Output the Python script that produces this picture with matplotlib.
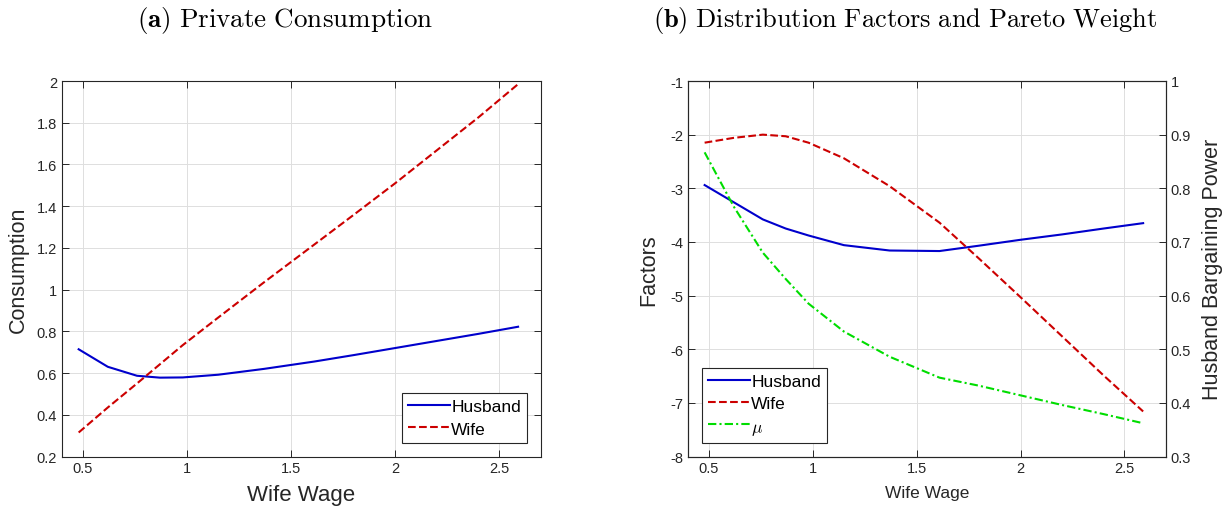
"""Two-panel MATLAB-style chart: private consumption and distribution factors."""

import matplotlib

matplotlib.use("Agg")

import matplotlib.pyplot as plt
from matplotlib.ticker import FuncFormatter

plt.rcParams["font.family"] = ["Liberation Sans", "DejaVu Sans"]
plt.rcParams["mathtext.fontset"] = "cm"
plt.rcParams["axes.unicode_minus"] = False

# wife wage grid
wage = [0.48, 0.62, 0.76, 0.87, 0.98, 1.15, 1.37, 1.61, 1.8, 2.0, 2.2, 2.4, 2.59]

# panel (a): private consumption
cons_husband = [0.714, 0.630, 0.587, 0.578, 0.579, 0.592, 0.620, 0.655,
                0.686, 0.720, 0.754, 0.788, 0.822]
cons_wife = [0.315, 0.435, 0.550, 0.642, 0.734, 0.866, 1.035, 1.215,
             1.358, 1.510, 1.668, 1.826, 1.985]

# panel (b): distribution factors (left axis) and pareto weight (right axis)
factor_husband = [-2.94, -3.26, -3.58, -3.75, -3.88, -4.06, -4.16, -4.17,
                  -4.07, -3.96, -3.86, -3.75, -3.65]
factor_wife = [-2.15, -2.06, -2.00, -2.03, -2.15, -2.44, -2.96, -3.64,
               -4.31, -5.03, -5.76, -6.49, -7.16]
mu = [0.867, 0.766, 0.680, 0.631, 0.585, 0.533, 0.486, 0.447,
      0.432, 0.414, 0.396, 0.379, 0.362]

x_ticks = [0.5, 1, 1.5, 2, 2.5]
cons_ticks = [0.2, 0.4, 0.6, 0.8, 1, 1.2, 1.4, 1.6, 1.8, 2]
factor_ticks = [-8, -7, -6, -5, -4, -3, -2, -1]
mu_ticks = [0.3, 0.4, 0.5, 0.6, 0.7, 0.8, 0.9, 1]

BLUE = "#0000CC"
RED = "#CC0000"
GREEN = "#00DD00"
AXIS = "#262626"
W, H = 1232, 510


def _fmt(v, _pos):
    return "%g" % round(v, 6)


def _style_spines(ax):
    for side in ax.spines.values():
        side.set_color(AXIS)
        side.set_linewidth(0.8)


def _matlab_axes(ax, mirror_y=True):
    _style_spines(ax)
    ax.tick_params(direction="in", length=5, width=0.7, color=AXIS,
                   labelcolor=AXIS, labelsize=10.5, top=True, right=mirror_y)
    ax.grid(True, color="#DEDEDE", linewidth=0.7)
    ax.set_axisbelow(True)
    ax.xaxis.set_major_formatter(FuncFormatter(_fmt))
    ax.yaxis.set_major_formatter(FuncFormatter(_fmt))


def _legend(ax, handles, loc):
    leg = ax.legend(handles, [h.get_label() for h in handles], loc=loc,
                    fontsize=12.5, fancybox=False, framealpha=1,
                    edgecolor=AXIS, handlelength=2.4, handletextpad=0.1,
                    borderpad=0.35, labelspacing=0.4, borderaxespad=0.8)
    leg.get_frame().set_linewidth(0.8)
    return leg


fig = plt.figure(figsize=(W / 100, H / 100), dpi=100)
bottom = (H - 457.5) / H
height = 375.5 / H
ax_a = fig.add_axes([62 / W, bottom, 479 / W, height])
ax_b = fig.add_axes([688 / W, bottom, 478 / W, height])

# (a) private consumption
ax_a.plot(wage, cons_husband, color=BLUE, lw=1.5, label="Husband")
ax_a.plot(wage, cons_wife, color=RED, lw=1.5, ls="--", label="Wife")
ax_a.set_xlim(0.4, 2.7)
ax_a.set_ylim(0.2, 2)
ax_a.set_xticks(x_ticks)
ax_a.set_yticks(cons_ticks)
_matlab_axes(ax_a)
ax_a.set_xlabel("Wife Wage", fontsize=16, color=AXIS, labelpad=6)
ax_a.set_ylabel("Consumption", fontsize=15.5, color=AXIS, labelpad=6)
_legend(ax_a, ax_a.get_lines(), "lower right")

# (b) distribution factors and pareto weight
ax_b.plot(wage, factor_husband, color=BLUE, lw=1.5, label="Husband")
ax_b.plot(wage, factor_wife, color=RED, lw=1.5, ls="--", label="Wife")
ax_b.set_xlim(0.4, 2.7)
ax_b.set_ylim(-8, -1)
ax_b.set_xticks(x_ticks)
ax_b.set_yticks(factor_ticks)
_matlab_axes(ax_b, mirror_y=False)
ax_b.set_xlabel("Wife Wage", fontsize=12.5, color=AXIS, labelpad=7)
ax_b.set_ylabel("Factors", fontsize=15.5, color=AXIS, labelpad=8)

ax_mu = ax_b.twinx()
ax_mu.plot(wage, mu, color=GREEN, lw=1.5, dashes=(4, 1.5, 1, 1.5),
           label=r"$\mu$")
ax_mu.set_ylim(0.3, 1)
ax_mu.set_yticks(mu_ticks)
ax_mu.tick_params(direction="in", length=5, width=0.7, color=AXIS,
                  labelcolor=AXIS, labelsize=10.5)
ax_mu.yaxis.set_major_formatter(FuncFormatter(_fmt))
_style_spines(ax_mu)
ax_mu.set_ylabel("Husband Bargaining Power", fontsize=15.5, color=AXIS,
                 labelpad=8)
_legend(ax_mu, ax_b.get_lines() + ax_mu.get_lines(), "lower left")

fig.text(285.5 / W, 1 - 20 / H,
         r"$\mathbf{(a)}\ \mathrm{Private\ Consumption}$",
         ha="center", va="center", fontsize=19.5)
fig.text(905 / W, 1 - 20 / H,
         r"$\mathbf{(b)}\ \mathrm{Distribution\ Factors\ and\ Pareto\ Weight}$",
         ha="center", va="center", fontsize=19)

fig.savefig("out.png", dpi=100)
